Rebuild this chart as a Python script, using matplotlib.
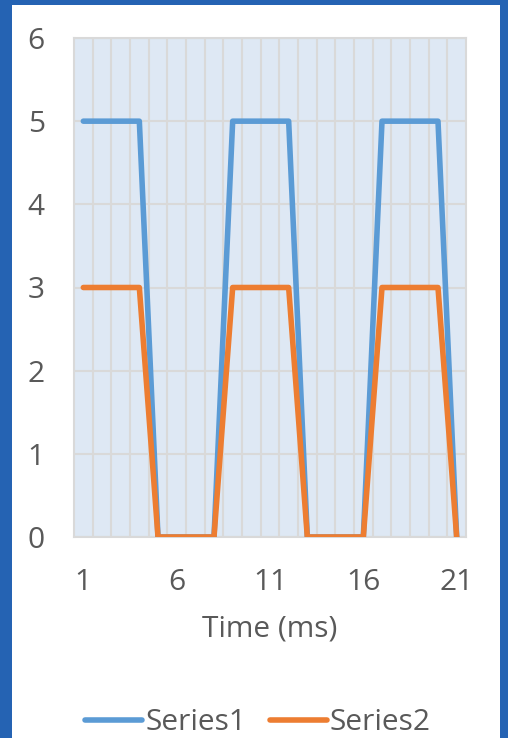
import matplotlib.pyplot as plt
from matplotlib.patches import Rectangle

# data
time = list(range(1, 22))
series1 = [5, 5, 5, 5, 0, 0, 0, 0, 5, 5, 5, 5, 0, 0, 0, 0, 5, 5, 5, 5, 0]
series2 = [3, 3, 3, 3, 0, 0, 0, 0, 3, 3, 3, 3, 0, 0, 0, 0, 3, 3, 3, 3, 0]
xticks = [1, 6, 11, 16, 21]
yticks = [0, 1, 2, 3, 4, 5, 6]

plt.rcParams['font.family'] = ['Open Sans', 'DejaVu Sans']
txt = '#595959'
grid = '#D9D9D9'
fs = 21.5

fig = plt.figure(figsize=(5.08, 7.38), dpi=100)

# blue frame around the chart
fig.patches.append(Rectangle((0, 0), 1, 1, transform=fig.transFigure,
                             facecolor='#2563B3', edgecolor='none', zorder=-10))
fig.patches.append(Rectangle((12 / 508, -0.1), (500 - 12) / 508, 1.1 - 5 / 738,
                             transform=fig.transFigure, facecolor='white',
                             edgecolor='none', zorder=-9))

ax = fig.add_axes([74 / 508, 1 - 537 / 738, 392 / 508, 499 / 738])
ax.set_facecolor('#DEE8F4')

ax.plot(time, series1, color='#5B9BD5', lw=4, solid_capstyle='round',
        solid_joinstyle='round', label='Series1', zorder=3)
ax.plot(time, series2, color='#ED7D31', lw=4, solid_capstyle='round',
        solid_joinstyle='round', label='Series2', zorder=3)

ax.set_xlim(0.5, 21.5)
ax.set_ylim(0, 6)
ax.set_xticks(xticks)
ax.set_xticks([t + 0.5 for t in time[:-1]], minor=True)
ax.set_yticks(yticks)

ax.grid(True, which='major', axis='y', color=grid, lw=1.5, zorder=1)
ax.grid(True, which='minor', axis='x', color=grid, lw=1.5, zorder=1)
ax.set_axisbelow(True)
for s in ax.spines.values():
    s.set_color(grid)
    s.set_linewidth(1.5)

ax.tick_params(which='both', length=0, colors=txt, labelsize=fs)
ax.tick_params(axis='y', pad=21)
ax.tick_params(axis='x', pad=22)

ax.set_xlabel('Time (ms)', color=txt, fontsize=fs, labelpad=13)

fig.legend(loc='center', bbox_to_anchor=(258 / 508, 1 - 723 / 738), ncol=2,
           frameon=False, fontsize=fs, labelcolor=txt, handlelength=1.9,
           handletextpad=0.1, columnspacing=0.8)

fig.savefig('out.png', dpi=100)
